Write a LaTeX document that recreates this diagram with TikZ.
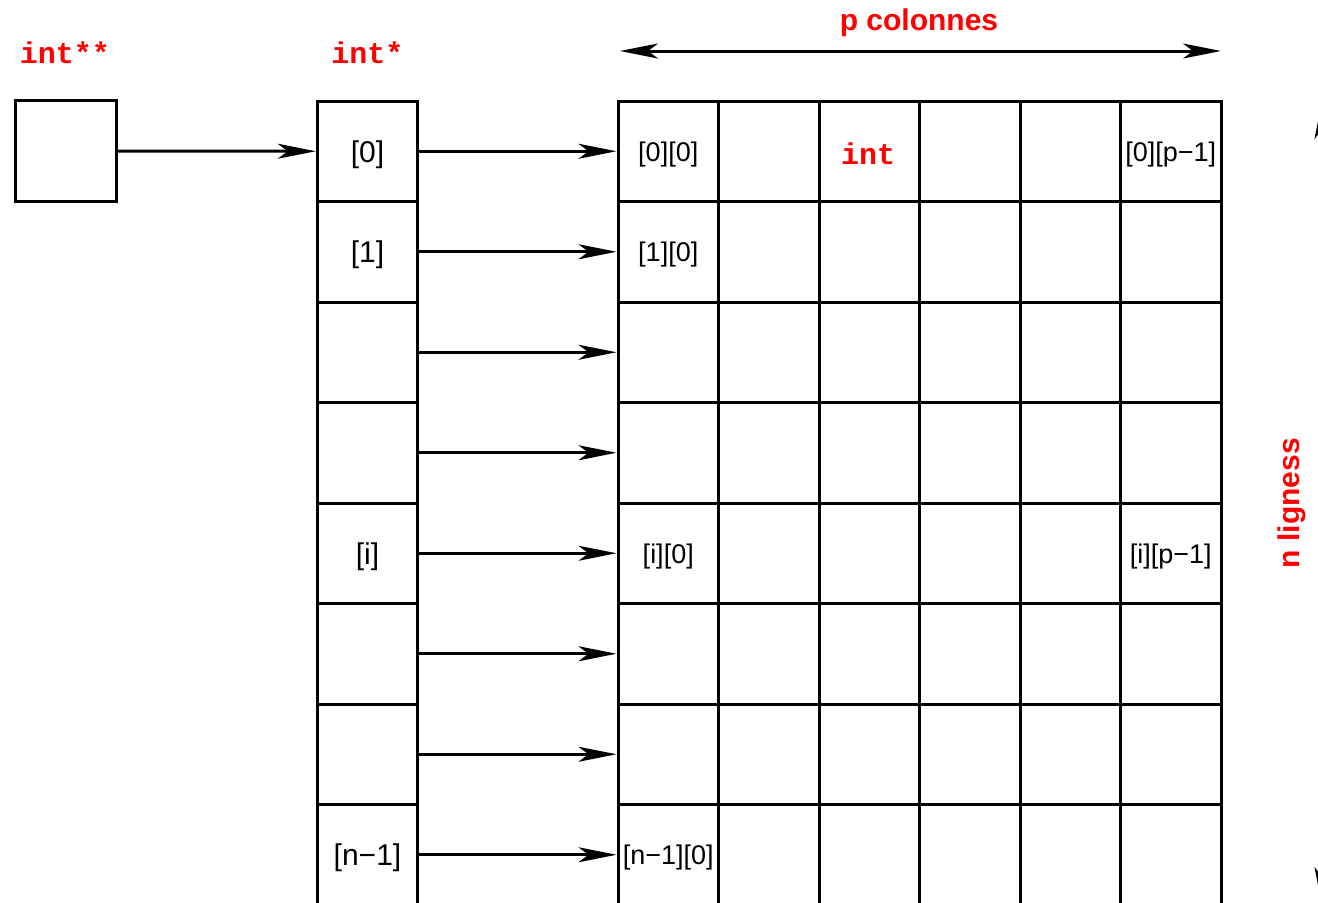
\documentclass[tikz,border=0pt]{standalone}
\usepackage{fontspec}
\setmainfont{Liberation Sans}
\setmonofont{Liberation Mono}
\usetikzlibrary{arrows.meta}
\definecolor{lblred}{RGB}{255,0,0}
\begin{document}
\begin{tikzpicture}[x=0.5pt,y=-0.5pt,line width=1.5pt,
  cell/.style={draw,minimum width=50.25pt,minimum height=50.25pt,inner sep=0pt},
  lbl/.style={font=\fontsize{13.5}{15}\selectfont,inner sep=0pt,yshift=-1.5pt},
  plbl/.style={font=\fontsize{15}{17}\selectfont,inner sep=0pt,yshift=-1.5pt},
  ctype/.style={font=\fontsize{15}{17}\selectfont\ttfamily\bfseries,text=lblred,inner sep=0pt},
  dim/.style={font=\fontsize{15}{17}\selectfont\bfseries,text=lblred,inner sep=0pt},
  ptr/.style={-{Stealth[length=19pt,width=7.5pt,inset=5pt]}},
  dbl/.style={{Stealth[length=19pt,width=7.5pt,inset=5pt]}-{Stealth[length=19pt,width=7.5pt,inset=5pt]}}]
\useasboundingbox (0,0) rectangle (1318,902);
\clip (0,0) rectangle (1318,902);
% pointer-to-pointer box
\node[cell,minimum width=50.5pt] (pp) at (66,151) {};
% pointer column and grid
\foreach \r in {1,...,8}{
  \node[cell] (p-\r) at (367.5,{101+100.5*(\r-0.5)}) {};
  \foreach \c in {1,...,6}{
    \node[cell] (g-\r-\c) at ({618+100.5*(\c-0.5)},{101+100.5*(\r-0.5)}) {};
  }
}
% arrows
\draw[ptr] (pp.east) -- (p-1.west);
\foreach \r in {1,...,8}{
  \draw[ptr] (p-\r.east) -- (g-\r-1.west);
}
% labels in pointer column
\node[plbl] (lp1) at (p-1) {[0]};
\node[plbl] (lp2) at (p-2) {[1]};
\node[plbl] (lp5) at (p-5) {[i]};
\node[plbl] (lp8) at (p-8) {[n−1]};
% labels in grid
\node[lbl] (lg11) at (g-1-1) {[0][0]};
\node[lbl] (lg16) at (g-1-6) {[0][p−1]};
\node[lbl] (lg21) at (g-2-1) {[1][0]};
\node[lbl] (lg51) at (g-5-1) {[i][0]};
\node[lbl] (lg56) at (g-5-6) {[i][p−1]};
\node[lbl] (lg81) at (g-8-1) {[n−1][0]};
\node[ctype] (tint) at (868,154) {int};
% type labels
\node[ctype] (tpp) at (65,53) {int**};
\node[ctype] (tp) at (367.5,53) {int*};
% dimension arrows
\coordinate (tl) at (620,51);
\coordinate (tr) at (1221,51);
\draw[dbl] (tl) -- (tr);
\node[dim] (pcol) at (919,23) {p colonnes};
\coordinate (vt) at (1322,101);
\coordinate (vb) at (1322,905);
\draw[dbl] (vt) -- (vb);
\node[dim,rotate=90] (nlig) at (1292,503) {n ligness};
\end{tikzpicture}
\end{document}
